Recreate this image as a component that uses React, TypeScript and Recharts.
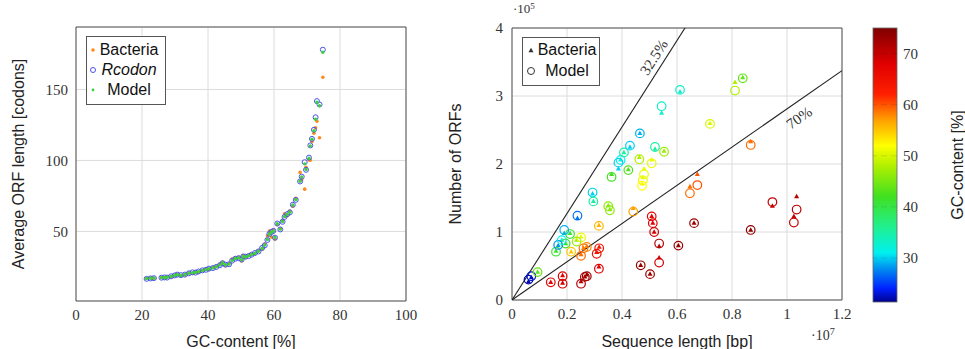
import React from "react";
import {
  ScatterChart,
  Scatter,
  XAxis,
  YAxis,
  CartesianGrid,
  ReferenceArea,
  ReferenceLine,
  ReferenceDot,
} from "recharts";

// ---- left panel: average ORF length vs GC-content ----
const gcLeft = [
  21.4, 22.6, 23.6, 25.9, 26.8, 27.6, 28.8, 29.9, 30.7, 31.8, 33.0, 34.2, 35.3,
  36.2, 37.1, 38.3, 39.4, 40.3, 41.5, 42.5, 43.6, 44.4, 45.3, 46.4, 47.3, 48.3,
  49.3, 50.2, 50.7, 51.4, 52.3, 53.2, 54.2, 55.3, 56.4, 57.2, 58.0, 58.6, 59.2,
  59.8, 60.3, 61.0, 61.9, 62.6, 63.2, 64.0, 64.8, 65.7, 66.6, 67.9, 68.4, 69.3,
  69.7, 70.6, 71.0, 71.5, 72.1, 72.6, 73.0, 73.8, 74.8,
];
const bacteriaLen = [
  16.8, 17.2, 17.0, 17.6, 17.3, 17.8, 18.2, 18.9, 19.8, 18.8, 19.3, 20.8, 20.4,
  21.6, 21.2, 22.4, 23.4, 23.2, 24.6, 25.4, 26.8, 28.2, 25.8, 27.4, 30.6, 31.4,
  31.8, 29.2, 33.0, 31.6, 33.4, 33.8, 34.4, 36.6, 37.4, 41.2, 47.0, 50.2, 46.0,
  51.0, 44.6, 54.8, 52.0, 57.8, 62.4, 61.0, 64.4, 67.8, 73.4, 91.6, 86.4, 79.8,
  95.2, 100.4, 100.2, 113.4, 119.2, 123.0, 127.6, 116.0, 158.6,
];
const rcodonLen = [
  16.6, 16.9, 17.1, 17.4, 17.6, 17.5, 18.4, 19.0, 19.6, 19.2, 19.6, 20.5, 21.2,
  21.0, 21.8, 22.6, 23.0, 23.8, 24.2, 25.0, 26.2, 27.6, 26.6, 26.9, 29.4, 30.8,
  31.2, 30.2, 32.4, 32.2, 32.6, 33.6, 34.8, 35.9, 38.4, 40.2, 44.0, 48.2, 49.6,
  50.4, 45.6, 55.6, 51.4, 56.8, 60.2, 62.2, 63.4, 68.8, 72.2, 85.2, 88.6, 98.8,
  93.4, 102.0, 110.6, 115.2, 121.6, 130.4, 141.8, 139.4, 178.0,
];
const modelLen = [
  16.8, 17.0, 17.2, 17.5, 17.6, 17.7, 18.3, 19.1, 19.5, 19.0, 19.7, 20.6, 21.0,
  21.1, 21.7, 22.5, 23.1, 23.7, 24.3, 25.1, 26.3, 27.8, 26.5, 27.0, 29.5, 30.9,
  31.4, 30.1, 32.3, 32.0, 32.8, 33.7, 34.6, 36.0, 38.2, 40.4, 44.3, 48.0, 49.4,
  50.2, 45.8, 55.4, 51.6, 57.0, 60.4, 62.0, 63.6, 68.6, 72.4, 85.4, 88.3, 97.6,
  93.6, 101.6, 110.2, 115.0, 121.0, 129.0, 141.0, 138.6, 176.2,
];
const leftXTicks = [0, 20, 40, 60, 80, 100];
const leftYTicks = [50, 100, 150];

// ---- right panel: number of ORFs vs sequence length (x in 1e7 bp, y in 1e5) ----
const seqLen = [
  0.06, 0.07, 0.093, 0.141, 0.184, 0.184, 0.251, 0.272, 0.265, 0.316, 0.308,
  0.317, 0.251, 0.26, 0.272, 0.215, 0.251, 0.235, 0.211, 0.195, 0.16, 0.168,
  0.181, 0.19, 0.238, 0.293, 0.296, 0.316, 0.35, 0.356, 0.362, 0.387, 0.395,
  0.407, 0.429, 0.423, 0.463, 0.465, 0.48, 0.476, 0.473, 0.441, 0.508, 0.52,
  0.553, 0.544, 0.611, 0.72, 0.811, 0.839, 0.868, 0.647, 0.674, 0.508, 0.512,
  0.517, 0.535, 0.535, 0.468, 0.502, 0.605, 0.662, 0.868, 0.947, 1.035, 1.025,
];
const orfBacteria = [
  0.27, 0.33, 0.41, 0.26, 0.36, 0.25, 0.27, 0.37, 0.34, 0.49, 0.7, 0.78, 0.67,
  0.76, 0.79, 0.71, 0.93, 0.88, 0.98, 0.83, 0.72, 0.8, 0.88, 0.98, 1.2, 1.56,
  1.45, 1.1, 1.39, 1.33, 1.85, 1.93, 2.06, 2.17, 2.25, 1.92, 2.1, 2.45, 1.93,
  1.8, 1.71, 1.35, 2.06, 2.22, 2.19, 2.75, 3.06, 2.6, 3.2, 3.27, 2.33, 1.67,
  1.85, 1.23, 1.13, 1.0, 0.79, 0.62, 0.51, 0.38, 0.8, 1.13, 1.03, 1.38, 1.52,
  1.23,
];
const orfModel = [
  0.3, 0.35, 0.41, 0.26, 0.35, 0.24, 0.24, 0.35, 0.34, 0.46, 0.68, 0.76, 0.65,
  0.76, 0.78, 0.71, 0.92, 0.86, 0.97, 0.83, 0.71, 0.81, 0.88, 1.03, 1.24, 1.58,
  1.45, 1.09, 1.38, 1.32, 1.81, 2.02, 2.06, 2.17, 2.27, 1.91, 2.07, 2.45, 1.85,
  1.76, 1.68, 1.3, 2.01, 2.25, 2.18, 2.85, 3.09, 2.59, 3.08, 3.26, 2.28, 1.57,
  1.69, 1.23, 1.13, 1.0, 0.83, 0.55, 0.51, 0.38, 0.8, 1.13, 1.03, 1.44, 1.33,
  1.14,
];
const gcRight = [
  22, 23, 44, 67, 68, 69, 71, 73, 72, 68, 65, 64, 59, 59, 58, 55, 51, 47, 41,
  42, 41, 28, 31, 29, 27, 30, 35, 56, 46, 46, 42, 30, 31, 35, 30, 43, 48, 29,
  51, 51, 52, 57, 51, 35, 47, 33, 33, 50, 48, 44, 59, 59, 60, 67, 68, 69, 71,
  69, 73, 73, 73, 73, 74, 70, 71, 70,
];
const rightXTicks = [0, 0.2, 0.4, 0.6, 0.8, 1, 1.2];
const rightYTicks = [0, 1, 2, 3, 4];
// ORFs per bp lines (1e5 ORFs per 1e7 bp)
const slope325 = 6.36;
const slope70 = 2.81;

// ---- colorbar ----
const GC_MIN = 21.4;
const GC_MAX = 75;
const cbTicks = [30, 40, 50, 60, 70];
// colormap stops
const cmapGc = [21.4, 24, 28, 31, 36, 42, 48, 52, 57, 62, 68, 75];
const cmapColor = [
  [0, 0, 140], [0, 32, 255], [0, 144, 240], [0, 240, 240], [32, 240, 144],
  [64, 224, 32], [176, 240, 0], [255, 255, 0], [255, 160, 0], [255, 32, 0],
  [224, 0, 0], [128, 0, 0],
];

const serif = "'Liberation Serif', 'DejaVu Serif', serif";
const sans = "'Liberation Sans', Arial, sans-serif";
const tickStyle = { fontFamily: serif, fontSize: 15, fill: "#333" };
const titleStyle = { fontFamily: sans, fontSize: 16, fill: "#222" };

const ORANGE = "#ff8a1c";
const BLUE = "#4a55ee";
const GREEN = "#3fcf3f";

function gcColor(gc: number) {
  let i = 0;
  while (i < cmapGc.length - 2 && gc > cmapGc[i + 1]) i++;
  const t = Math.max(0, Math.min(1, (gc - cmapGc[i]) / (cmapGc[i + 1] - cmapGc[i])));
  const a = cmapColor[i];
  const b = cmapColor[i + 1];
  const m = (k: number) => Math.round(a[k] + (b[k] - a[k]) * t);
  return `rgb(${m(0)},${m(1)},${m(2)})`;
}

const bacteriaPts = gcLeft.map((g, i) => ({ x: g, y: bacteriaLen[i] }));
const rcodonPts = gcLeft.map((g, i) => ({ x: g, y: rcodonLen[i] }));
const modelPts = gcLeft.map((g, i) => ({ x: g, y: modelLen[i] }));

const bactRight = seqLen.map((s, i) => ({ x: s, y: orfBacteria[i], gc: gcRight[i] }));
const modelRight = seqLen.map((s, i) => ({ x: s, y: orfModel[i], gc: gcRight[i] }));
const cbPts = cbTicks.map((t) => ({ x: 0.5, y: t }));

const fmtRight = (v: number) => (v === 0 || v === 1 ? String(v) : v.toFixed(1));

const Tri = ({ cx, cy, fill }: { cx: number; cy: number; fill: string }) => (
  <polygon
    points={`${cx},${cy - 2.8} ${cx - 2.5},${cy + 1.7} ${cx + 2.5},${cy + 1.7}`}
    fill={fill}
  />
);

function LineLabel(text: string, angle: number) {
  return (p: any) => (
    <text
      x={p.cx}
      y={p.cy}
      transform={`rotate(${angle} ${p.cx} ${p.cy})`}
      textAnchor="middle"
      dominantBaseline="central"
      style={{ fontFamily: serif, fontSize: 15, fill: "#333" }}
    >
      {text}
    </text>
  );
}

const legendBox: React.CSSProperties = {
  position: "absolute",
  background: "#fff",
  border: "1px solid #555",
  fontFamily: sans,
  fontSize: 16,
  color: "#111",
  boxSizing: "border-box",
};

function LeftLegend() {
  const rows = [
    { label: "Bacteria", icon: <circle cx={6} cy={6} r={1.8} fill={ORANGE} /> },
    {
      label: <i>Rcodon</i>,
      icon: <circle cx={6} cy={6} r={2.5} fill="none" stroke={BLUE} strokeWidth={1} />,
    },
    { label: "Model", icon: <circle cx={6} cy={6} r={1.4} fill={GREEN} /> },
  ];
  return (
    <div style={{ ...legendBox, left: 86, top: 36, width: 80, height: 69 }}>
      {rows.map((r, i) => (
        <div
          key={i}
          style={{ position: "absolute", left: 0, top: 3 + i * 20, height: 20, width: 80 }}
        >
          <svg width={12} height={12} style={{ position: "absolute", left: 0, top: 4 }}>
            {r.icon}
          </svg>
          <div
            style={{ position: "absolute", left: 12, width: 60, top: 0, textAlign: "center", lineHeight: "20px" }}
          >
            {r.label}
          </div>
        </div>
      ))}
    </div>
  );
}

function RightLegend() {
  return (
    <div style={{ ...legendBox, left: 522, top: 37, width: 78, height: 49 }}>
      <svg width={12} height={12} style={{ position: "absolute", left: 2, top: 6 }}>
        <Tri cx={6} cy={6.5} fill="#333" />
      </svg>
      <div style={{ position: "absolute", left: 14, width: 60, top: 2, textAlign: "center", lineHeight: "19px" }}>
        Bacteria
      </div>
      <svg width={12} height={12} style={{ position: "absolute", left: 2, top: 27 }}>
        <circle cx={6} cy={6} r={3.5} fill="none" stroke="#333" strokeWidth={1} />
      </svg>
      <div style={{ position: "absolute", left: 14, width: 60, top: 23, textAlign: "center", lineHeight: "19px" }}>
        Model
      </div>
    </div>
  );
}

export default function App() {
  return (
    <div
      style={{
        position: "absolute",
        left: 0,
        top: 0,
        width: 965,
        height: 349,
        background: "#fff",
        overflow: "hidden",
      }}
    >
      {/* left panel */}
      <div style={{ position: "absolute", left: 0, top: 0 }}>
        <ScatterChart width={420} height={349} margin={{ top: 27, right: 14, bottom: 0, left: 12 }}>
          <CartesianGrid stroke="#dcdcdc" strokeWidth={1} />
          <XAxis
            type="number"
            dataKey="x"
            domain={[0, 100]}
            ticks={leftXTicks}
            height={48}
            tickLine={false}
            axisLine={false}
            tickSize={0}
            tickMargin={8}
            tick={tickStyle}
            label={{ value: "GC-content [%]", position: "insideBottom", offset: 2, style: titleStyle }}
          />
          <YAxis
            type="number"
            dataKey="y"
            domain={[1, 194]}
            ticks={leftYTicks}
            width={64}
            tickLine={false}
            axisLine={false}
            tickSize={0}
            tickMargin={8}
            tick={tickStyle}
            label={{
              value: "Average ORF length [codons]",
              angle: -90,
              position: "insideLeft",
              offset: 6,
              style: { ...titleStyle, textAnchor: "middle" },
            }}
          />
          <Scatter
            data={bacteriaPts}
            isAnimationActive={false}
            shape={(p: any) => <circle cx={p.cx} cy={p.cy} r={1.8} fill={ORANGE} />}
          />
          <Scatter
            data={rcodonPts}
            isAnimationActive={false}
            shape={(p: any) => (
              <circle cx={p.cx} cy={p.cy} r={2.5} fill="none" stroke={BLUE} strokeWidth={1} />
            )}
          />
          <Scatter
            data={modelPts}
            isAnimationActive={false}
            shape={(p: any) => <circle cx={p.cx} cy={p.cy} r={1.7} fill={GREEN} />}
          />
          <ReferenceArea x1={0} x2={100} y1={1} y2={194} fill="none" stroke="#555" strokeWidth={1} />
        </ScatterChart>
      </div>
      <LeftLegend />

      {/* right panel */}
      <div style={{ position: "absolute", left: 420, top: 0 }}>
        <ScatterChart width={445} height={349} margin={{ top: 28, right: 23, bottom: 0, left: 20 }}>
          <CartesianGrid stroke="#dcdcdc" strokeWidth={1} />
          <XAxis
            type="number"
            dataKey="x"
            domain={[0, 1.2]}
            ticks={rightXTicks}
            tickFormatter={fmtRight}
            height={49}
            tickLine={false}
            axisLine={false}
            tickSize={0}
            tickMargin={8}
            tick={tickStyle}
            label={{ value: "Sequence length [bp]", position: "insideBottom", offset: 2, style: titleStyle }}
          />
          <YAxis
            type="number"
            dataKey="y"
            domain={[0, 4]}
            ticks={rightYTicks}
            width={72}
            tickLine={false}
            axisLine={false}
            tickSize={0}
            tickMargin={9}
            tick={tickStyle}
            label={{
              value: "Number of ORFs",
              angle: -90,
              position: "insideLeft",
              offset: 15,
              style: { ...titleStyle, textAnchor: "middle" },
            }}
          />
          <ReferenceLine
            segment={[{ x: 0, y: 0 }, { x: 1.2, y: slope325 * 1.2 }]}
            ifOverflow="hidden"
            stroke="#222"
            strokeWidth={1.1}
          />
          <ReferenceLine
            segment={[{ x: 0, y: 0 }, { x: 1.2, y: slope70 * 1.2 }]}
            ifOverflow="hidden"
            stroke="#222"
            strokeWidth={1.1}
          />
          <Scatter
            data={bactRight}
            isAnimationActive={false}
            shape={(p: any) => <Tri cx={p.cx} cy={p.cy} fill={gcColor(p.payload.gc)} />}
          />
          <Scatter
            data={modelRight}
            isAnimationActive={false}
            shape={(p: any) => (
              <circle
                cx={p.cx}
                cy={p.cy}
                r={4.3}
                fill="none"
                stroke={gcColor(p.payload.gc)}
                strokeWidth={1.2}
              />
            )}
          />
          <ReferenceDot x={0.516} y={3.57} ifOverflow="visible" shape={LineLabel("32.5%", -57.5)} />
          <ReferenceDot x={1.044} y={2.68} ifOverflow="visible" shape={LineLabel("70%", -34.8)} />
          <ReferenceArea x1={0} x2={1.2} y1={0} y2={4} fill="none" stroke="#555" strokeWidth={1} />
        </ScatterChart>
      </div>
      <RightLegend />
      <div style={{ position: "absolute", left: 513, top: -1, fontFamily: serif, fontSize: 13, color: "#333", lineHeight: "14px" }}>
        ·10<sup style={{ fontSize: 9, verticalAlign: "4px" }}>5</sup>
      </div>
      <div style={{ position: "absolute", left: 811, top: 324, fontFamily: serif, fontSize: 14, color: "#333", lineHeight: "15px" }}>
        ·10<sup style={{ fontSize: 10, verticalAlign: "5px" }}>7</sup>
      </div>

      {/* colorbar */}
      <div style={{ position: "absolute", left: 865, top: 0 }}>
        <ScatterChart width={100} height={349} margin={{ top: 28, right: 0, bottom: 0, left: 8 }}>
          <XAxis type="number" dataKey="x" domain={[0, 1]} height={47} tick={false} axisLine={false} tickLine={false} />
          <YAxis
            type="number"
            dataKey="y"
            orientation="right"
            domain={[GC_MIN, GC_MAX]}
            ticks={cbTicks}
            width={68}
            tickLine={false}
            axisLine={false}
            tickSize={0}
            tickMargin={6}
            tick={tickStyle}
            label={{
              value: "GC-content [%]",
              angle: -90,
              position: "insideRight",
              offset: 8,
              style: { ...titleStyle, textAnchor: "middle" },
            }}
          />
          <ReferenceArea
            x1={0}
            x2={1}
            y1={GC_MIN}
            y2={GC_MAX}
            shape={(p: any) => (
              <g>
                <defs>
                  <linearGradient id="gcbar" x1="0" y1="1" x2="0" y2="0">
                    {cmapGc.map((g, i) => (
                      <stop
                        key={g}
                        offset={(g - GC_MIN) / (GC_MAX - GC_MIN)}
                        stopColor={`rgb(${cmapColor[i].join(",")})`}
                      />
                    ))}
                  </linearGradient>
                </defs>
                <rect x={p.x} y={p.y} width={p.width} height={p.height} fill="url(#gcbar)" stroke="#666" strokeWidth={0.8} />
              </g>
            )}
          />
          {cbTicks.map((t) => (
            <ReferenceLine key={t} y={t} stroke="#000" strokeOpacity={0.1} strokeDasharray="6 4" />
          ))}
          <Scatter data={cbPts} isAnimationActive={false} shape={() => <g />} />
        </ScatterChart>
      </div>
    </div>
  );
}
